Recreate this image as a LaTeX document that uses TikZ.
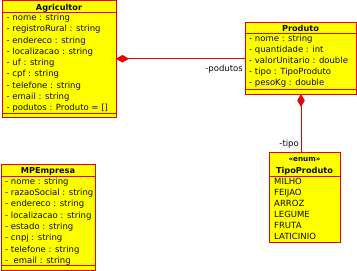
\documentclass[tikz,border=0pt]{standalone}
\usepackage{fontspec}
\setmainfont{DejaVu Sans}
\usetikzlibrary{arrows.meta,calc}
\definecolor{umlfill}{RGB}{255,255,0}
\definecolor{umlline}{RGB}{230,0,0}
\definecolor{umltext}{RGB}{10,10,10}
\begin{document}
\begin{tikzpicture}[x=1pt,y=-1pt,
  classbox/.style={draw=umlline, fill=umlfill, line width=0.9pt, anchor=north west, inner sep=0pt, outer sep=0pt},
  rowtext/.style={anchor=base west, inner sep=0pt, text=umltext, font=\fontsize{8.5}{10}\selectfont},
  headtext/.style={anchor=base, inner sep=0pt, text=umltext, font=\fontsize{8.2}{10}\selectfont\bfseries},
  stereo/.style={anchor=base, inner sep=0pt, text=umltext, font=\fontsize{7.2}{8}\selectfont\bfseries},
  roletext/.style={anchor=base east, inner sep=0pt, text=umltext, font=\fontsize{8.5}{10}\selectfont},
  sepline/.style={draw=umlline, line width=0.9pt},
  assoc/.style={draw=umlline, line width=0.9pt},
  compos/.style={{Diamond[length=13pt,width=7.5pt]}-}
]
\useasboundingbox (0,0) rectangle (357,271);

% ---- Agricultor ----
\node[classbox, minimum width=114pt, minimum height=116.5pt] (agr) at (2,0.5) {};
\draw[sepline] ($(agr.north west)+(0,11.5)$) -- ($(agr.north east)+(0,11.5)$);
\draw[sepline] ($(agr.north west)+(0,112.5)$) -- ($(agr.north east)+(0,112.5)$);
\node[headtext] (agrname) at ($(agr.north)+(0,9.7)$) {Agricultor};
\foreach \t [count=\i] in {{- nome : string},{- registroRural : string},{- endereco : string},
  {- localizacao : string},{- uf : string},{- cpf : string},{- telefone : string},
  {- email : string},{- podutos : Produto = []}}
  \node[rowtext] (agr\i) at (6.5,{20.7+(\i-1)*11.23}) {\t};

% ---- Produto ----
\node[classbox, minimum width=111pt, minimum height=72pt] (prod) at (245,22) {};
\draw[sepline] ($(prod.north west)+(0,11)$) -- ($(prod.north east)+(0,11)$);
\draw[sepline] ($(prod.north west)+(0,67)$) -- ($(prod.north east)+(0,67)$);
\node[headtext] (prodname) at ($(prod.north)+(0,9)$) {Produto};
\foreach \t [count=\i] in {{- nome : string},{- quantidade : int},{- valorUnitario : double},
  {- tipo : TipoProduto},{- pesoKg : double}}
  \node[rowtext] (prod\i) at (249,{41.5+(\i-1)*11.1}) {\t};

% ---- TipoProduto (enumeration) ----
\node[classbox, minimum width=71pt, minimum height=90pt] (enum) at (269,152) {};
\draw[sepline] ($(enum.north west)+(0,24)$) -- ($(enum.north east)+(0,24)$);
\node[stereo] (enumst) at ($(enum.north)+(0,9.8)$) {«enum»};
\node[headtext] (enumname) at ($(enum.north)+(0,21)$) {TipoProduto};
\foreach \t [count=\i] in {MILHO,FEIJAO,ARROZ,LEGUME,FRUTA,LATICINIO}
  \node[rowtext] (enum\i) at (274,{184.8+(\i-1)*10.95}) {\t};

% ---- MPEmpresa ----
\node[classbox, minimum width=94pt, minimum height=106pt] (mpe) at (1,164) {};
\draw[sepline] ($(mpe.north west)+(0,12)$) -- ($(mpe.north east)+(0,12)$);
\draw[sepline] ($(mpe.north west)+(0,101)$) -- ($(mpe.north east)+(0,101)$);
\node[headtext] (mpename) at ($(mpe.north)+(0,9.5)$) {MPEmpresa};
\foreach \t [count=\i] in {{- nome : string},{- razaoSocial : string},{- endereco : string},
  {- localizacao : string},{- estado : string},{- cnpj : string},{- telefone : string},
  {-\ \ email : string}}
  \node[rowtext] (mpe\i) at (5,{184.3+(\i-1)*11.29}) {\t};

% ---- associations ----
\draw[assoc, compos] (agr.east) -- (prod.west |- agr.east);
\node[roletext] (lblpod) at (243,71.5) {-podutos};
\draw[assoc, compos] (prod.south -| 301,0) -- (301,0 |- enum.north);
\node[roletext] (lbltipo) at (299,146) {-tipo};
\end{tikzpicture}
\end{document}
